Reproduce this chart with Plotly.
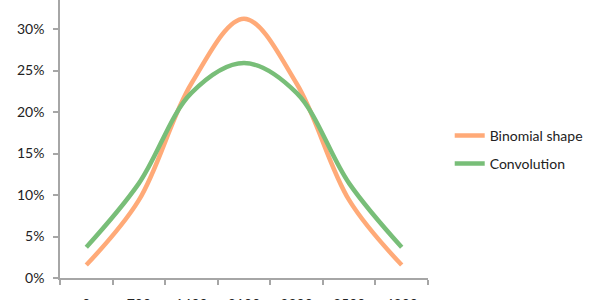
import plotly.graph_objects as go

categories = ["0", "700", "1400", "2100", "2800", "3500", "4200"]
binomial = [0.0156, 0.0938, 0.2344, 0.3125, 0.2344, 0.0938, 0.0156]
convolution = [0.037, 0.114, 0.223, 0.259, 0.223, 0.114, 0.037]

font_family = "Lato, 'Open Sans', sans-serif"
axis_color = "#A6A6A6"
text_color = "#222222"

fig = go.Figure()
fig.add_trace(go.Scatter(
    x=categories, y=binomial, name="Binomial shape", mode="lines",
    line=dict(color="rgb(255,170,120)", width=4.5, shape="spline", smoothing=1.0),
    legend="legend",
))
fig.add_trace(go.Scatter(
    x=categories, y=convolution, name="Convolution", mode="lines",
    line=dict(color="rgb(120,190,120)", width=4.5, shape="spline", smoothing=1.0),
    legend="legend2",
))

legend_common = dict(
    font=dict(family=font_family, size=14, color=text_color),
    bgcolor="rgba(0,0,0,0)", xanchor="left", yanchor="middle",
    itemwidth=30, tracegroupgap=0,
)

fig.update_layout(
    width=600, height=300,
    margin=dict(l=60, r=172, t=0, b=22),
    paper_bgcolor="white", plot_bgcolor="white",
    font=dict(family=font_family, size=14, color=text_color),
    showlegend=True,
    legend=dict(x=1.059, y=(300 - 136 - 22) / 278, **legend_common),
    legend2=dict(x=1.059, y=(300 - 164 - 22) / 278, **legend_common),
    xaxis=dict(
        type="category", range=[-0.5, 6.5],
        showline=True, linecolor=axis_color, linewidth=1.5,
        ticks="outside", ticklen=5, tickcolor=axis_color, tickwidth=1.5,
        tickson="boundaries", showgrid=False, zeroline=False,
        automargin=False, ticklabelstandoff=12,
        tickfont=dict(size=14, color=text_color),
    ),
    yaxis=dict(
        range=[0, 0.335], dtick=0.05, tickformat=".0%",
        showline=True, linecolor=axis_color, linewidth=1.5,
        ticks="outside", ticklen=5, tickcolor=axis_color, tickwidth=1.5,
        showgrid=False, zeroline=False, automargin=False,
        ticklabelstandoff=6,
        tickfont=dict(size=14, color=text_color),
    ),
)

fig.write_html("out.html")
